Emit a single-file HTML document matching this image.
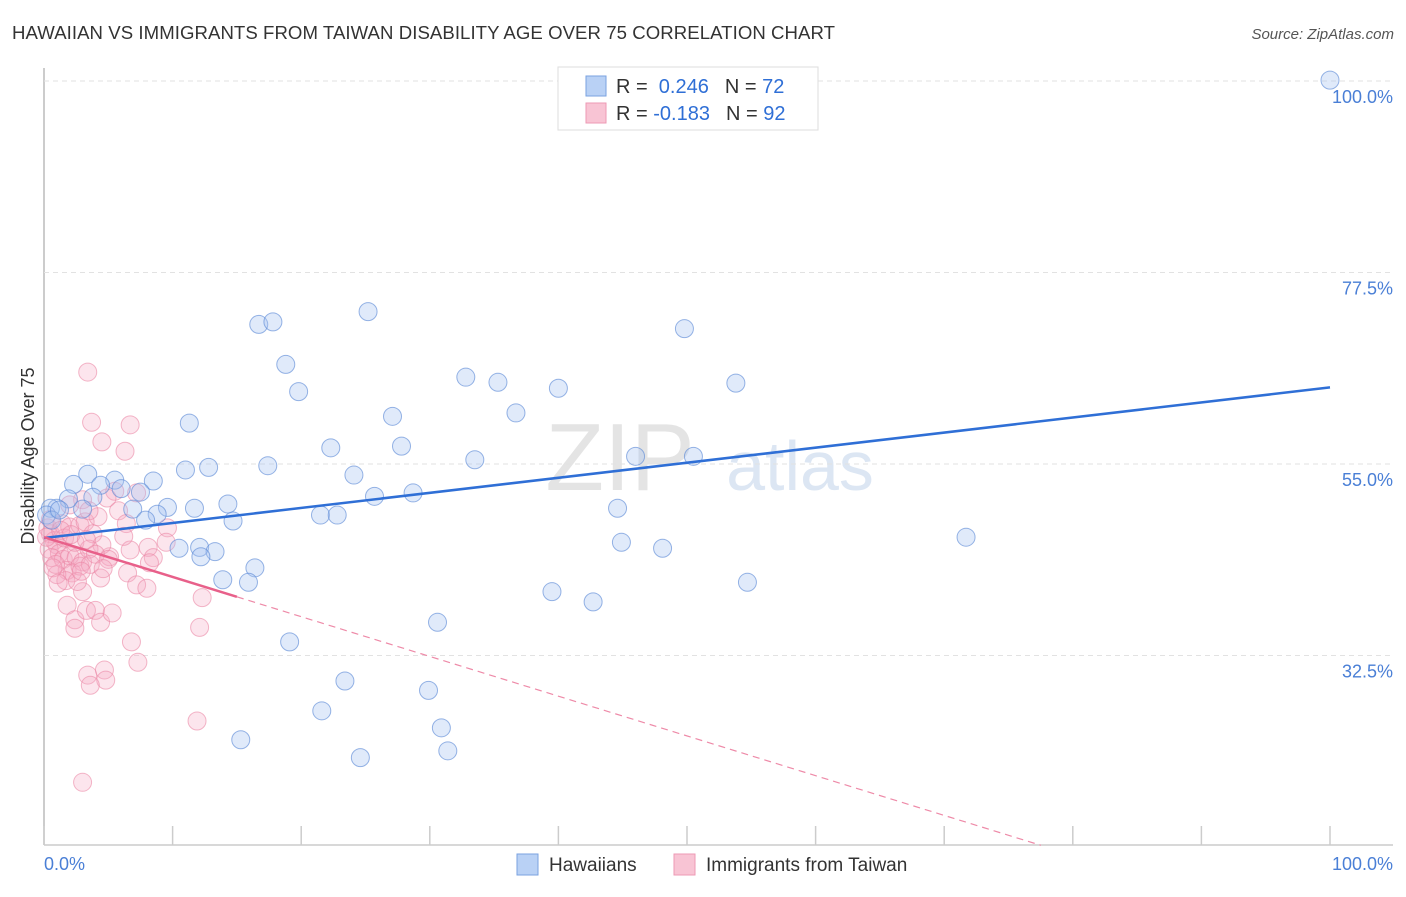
<!DOCTYPE html>
<html><head><meta charset="utf-8"><style>
body{margin:0;background:#fff;font-family:"Liberation Sans",sans-serif}
svg text{font-family:"Liberation Sans",sans-serif}
</style></head><body>
<svg id="c" width="1406" height="892" xmlns="http://www.w3.org/2000/svg">
<text x="12" y="39" font-size="18.6" fill="#333" textLength="823">HAWAIIAN VS IMMIGRANTS FROM TAIWAN DISABILITY AGE OVER 75 CORRELATION CHART</text>
<text x="1394" y="39" font-size="15" fill="#555" text-anchor="end" font-style="italic">Source: ZipAtlas.com</text>
<text x="34" y="456" font-size="18" fill="#333" text-anchor="middle" transform="rotate(-90 34 456)">Disability Age Over 75</text>
<text x="620" y="490" font-size="96" fill="#e4e4e4" font-family="Liberation Serif" text-anchor="middle">ZIP</text>
<text x="800" y="490" font-size="70" fill="#dce6f3" text-anchor="middle">atlas</text>
<g id="grid"></g><g id="pts"></g><g id="lines"></g>
<g>
<rect x="558" y="67" width="260" height="63" fill="#fff" stroke="#ddd"/>
<rect x="586" y="76" width="20" height="20" fill="#b9d1f5" stroke="#7aa2e0"/>
<rect x="586" y="103" width="20" height="20" fill="#f8c4d4" stroke="#ee9ab4"/>
<text x="616" y="93" font-size="20" fill="#333">R = <tspan fill="#2f6fd6">&#160;0.246</tspan><tspan dx="16">N = </tspan><tspan fill="#2f6fd6">72</tspan></text>
<text x="616" y="120" font-size="20" fill="#333">R = <tspan fill="#2f6fd6">-0.183</tspan><tspan dx="16">N = </tspan><tspan fill="#2f6fd6">92</tspan></text>
</g>
<g>
<rect x="517" y="854" width="21" height="21" fill="#b9d1f5" stroke="#7aa2e0"/>
<text x="549" y="871" font-size="19" fill="#333">Hawaiians</text>
<rect x="674" y="854" width="21" height="21" fill="#f8c4d4" stroke="#ee9ab4"/>
<text x="706" y="871" font-size="19" fill="#333">Immigrants from Taiwan</text>
</g>
<text x="44" y="870" font-size="18" fill="#4a7fd6">0.0%</text>
<text x="1393" y="870" font-size="18" fill="#4a7fd6" text-anchor="end">100.0%</text>
</svg>
<script>
const yTicks=[100,77.5,55,32.5];
const yTickLabels=["100.0%","77.5%","55.0%","32.5%"];
const blueX=[100,25.2,16.7,17.8,49.8,18.8,19.8,32.8,35.3,40.0,53.8,36.7,27.1,11.3,27.8,22.3,33.5,46.0,50.5,11.0,12.8,17.4,3.4,8.5,24.1,2.3,5.5,4.4,6.0,7.5,1.9,3.8,25.7,28.7,14.3,9.6,11.7,1.0,0.5,3.0,6.9,8.8,7.9,14.7,21.5,22.8,44.6,71.7,44.9,48.1,10.5,12.1,13.3,12.2,16.4,13.9,15.9,54.7,39.5,42.7,30.6,19.1,23.4,29.9,21.6,30.9,15.3,31.4,24.6,0.2,0.6,1.2];
const blueY=[100.1,72.9,71.4,71.7,70.9,66.7,63.5,65.2,64.6,63.9,64.5,61.0,60.6,59.8,57.1,56.9,55.5,55.9,55.9,54.3,54.6,54.8,53.8,53.0,53.7,52.6,53.1,52.5,52.1,51.7,50.9,51.1,51.2,51.6,50.3,49.9,49.8,49.8,49.8,49.7,49.7,49.1,48.4,48.3,49.0,49.0,49.8,46.4,45.8,45.1,45.1,45.2,44.7,44.1,42.8,41.4,41.1,41.1,40.0,38.8,36.4,34.1,29.5,28.4,26.0,24.0,22.6,21.3,20.5,49.0,48.4,49.6];
const pinkX=[3.4,3.7,6.7,4.5,6.3,7.2,9.6,9.5,5.1,6.7,8.1,8.5,8.2,6.5,7.2,8.0,12.3,12.1,4.4,3.0,1.8,2.4,2.4,3.3,4.0,4.4,5.3,6.8,7.3,3.4,4.7,4.8,3.6,11.9,3.0,0.3,0.5,0.8,1.0,0.4,1.2,0.6,1.5,2,2.5,3,1.8,2.2,1,0.5,1.4,2,2.8,3.2,3.8,4.5,1.6,2.4,3.5,2.8,0.9,1.7,2.6,3.6,4.2,3,2,5.5,4.9,5.8,6.4,0.2,1.3,2.1,3.3,4,5,0.7,1.1,2.9,4.6,3.5,6.2];
const pinkY=[65.8,59.9,59.6,57.6,56.5,51.6,47.5,45.8,44.1,44.9,45.2,44.0,43.4,42.2,40.8,40.4,39.3,35.8,41.6,40.0,38.4,36.7,35.7,37.8,37.8,36.4,37.5,34.1,31.7,30.2,30.8,29.6,29.0,24.8,17.6,47.5,46.8,46,45.5,45,44.5,44,43.8,44.2,44,43.5,42.5,42.2,42,48.5,48,47.6,47.8,48.2,46.8,45.5,46.3,45.8,45,43,43.2,41.3,41.2,43.2,48.8,50.8,50.2,51.8,51,49.5,48,46.4,47.2,46.7,46.1,44.4,43.8,42.8,41,42.4,42.7,49.5,46.5];
const blueTrend=[46.3,64.0];
const pinkTrend=[46.4,-0.467];
const NS='http://www.w3.org/2000/svg';
const X=v=>44+v*12.86, Y=v=>81+(100-v)*8.511;
function mk(t,a,p){const e=document.createElementNS(NS,t);for(const k in a)e.setAttribute(k,a[k]);p.appendChild(e);return e;}
const g=document.getElementById('grid');
const ax=mk('line',{x1:44,y1:68,x2:44,y2:845,stroke:'#bbb','stroke-width':1.5},g);


const bx=mk('line',{x1:44,y1:845,x2:1393,y2:845,stroke:'#ccc','stroke-width':1.5},g);


yTicks.forEach((v,i)=>{
 const l=mk('line',{x1:44,y1:Y(v),x2:1393,y2:Y(v),stroke:'#e2e2e2','stroke-dasharray':'5,4'},g);
 
 
 const t=mk('text',{x:1393,y:Y(v)+22,'font-size':18,fill:'#4a7fd6','text-anchor':'end'},g);
 t.textContent=yTickLabels[i];
 
 
});
for(let i=0;i<=10;i++){
 const tk=mk('line',{x1:X(i*10),y1:826,x2:X(i*10),y2:845,stroke:'#ccc','stroke-width':1.5},g);
 
 
}
const p=document.getElementById('pts');
pinkX.forEach((x,i)=>{
 const c=mk('circle',{cx:X(x),cy:Y(pinkY[i]),r:9,fill:'rgba(245,170,195,0.3)',stroke:'rgba(235,135,165,0.6)','stroke-width':1},p);
 
 
});
blueX.forEach((x,i)=>{
 const c=mk('circle',{cx:X(x),cy:Y(blueY[i]),r:9,fill:'rgba(165,195,240,0.35)',stroke:'rgba(95,140,215,0.65)','stroke-width':1},p);
 
 
});
const L=document.getElementById('lines');
const bl=mk('line',{x1:X(0),y1:Y(blueTrend[0]),x2:X(100),y2:Y(blueTrend[1]),stroke:'#2f6fd6','stroke-width':2.5},L);


const pf=x=>pinkTrend[0]+pinkTrend[1]*x;
const pl=mk('line',{x1:X(0),y1:Y(pf(0)),x2:X(15),y2:Y(pf(15)),stroke:'#e8608a','stroke-width':2.5},L);


const yb=10.2, xe=(yb-pinkTrend[0])/pinkTrend[1];
const pd=mk('line',{x1:X(15),y1:Y(pf(15)),x2:X(xe),y2:Y(yb),stroke:'#ee8aa8','stroke-width':1.2,'stroke-dasharray':'7,5'},L);


</script>
</body></html>
